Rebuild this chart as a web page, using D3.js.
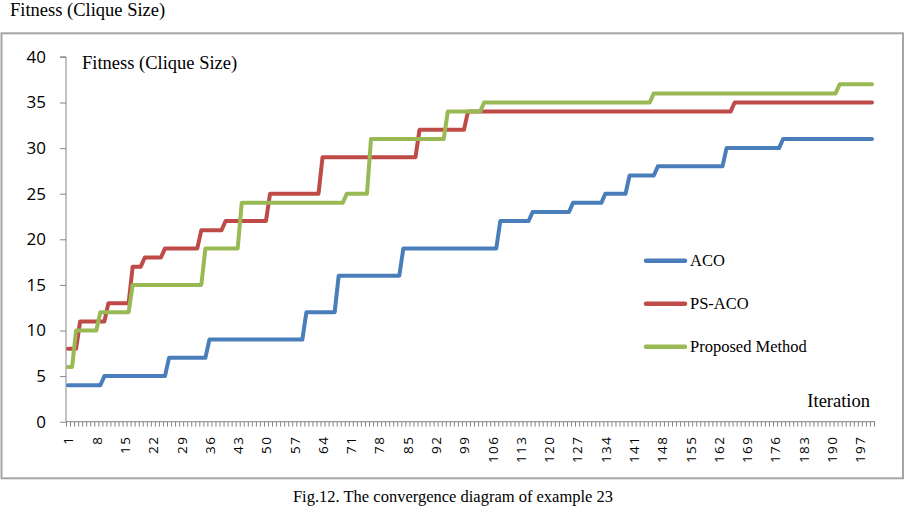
<!DOCTYPE html>
<html>
<head>
<meta charset="utf-8">
<script src="https://cdn.jsdelivr.net/npm/d3@7"></script>
<style>
  body { margin: 0; background: #fff; }
  svg { display: block; }
  .serif { font-family: "Liberation Serif", "Times New Roman", serif; fill: #000; }
  .axis path, .axis line { stroke: #868686; }
  .axis text { font-family: "Open Sans", sans-serif; fill: #000; }
</style>
</head>
<body>
<div id="chart"></div>
<script>
// fitness per iteration
const aco = [
  4,4,4,4,4,4,4,4,4,5, 5,5,5,5,5,5,5,5,5,5, 5,5,5,5,5,7,7,7,7,7, 7,7,7,7,7,9,9,9,9,9,
  9,9,9,9,9,9,9,9,9,9, 9,9,9,9,9,9,9,9,9,12, 12,12,12,12,12,12,12,16,16,16, 16,16,16,16,16,16,16,16,16,16,
  16,16,16,19,19,19,19,19,19,19, 19,19,19,19,19,19,19,19,19,19, 19,19,19,19,19,19,19,22,22,22, 22,22,22,22,22,23,23,23,23,23,
  23,23,23,23,23,24,24,24,24,24, 24,24,24,25,25,25,25,25,25,27, 27,27,27,27,27,27,28,28,28,28, 28,28,28,28,28,28,28,28,28,28,
  28,28,28,30,30,30,30,30,30,30, 30,30,30,30,30,30,30,31,31,31, 31,31,31,31,31,31,31,31,31,31, 31,31,31,31,31,31,31,31,31,31
];
const psAco = [
  8,8,8,11,11,11,11,11,11,11, 13,13,13,13,13,13,17,17,17,18, 18,18,18,18,19,19,19,19,19,19, 19,19,19,21,21,21,21,21,21,22,
  22,22,22,22,22,22,22,22,22,22, 25,25,25,25,25,25,25,25,25,25, 25,25,25,29,29,29,29,29,29,29, 29,29,29,29,29,29,29,29,29,29,
  29,29,29,29,29,29,29,32,32,32, 32,32,32,32,32,32,32,32,32,34, 34,34,34,34,34,34,34,34,34,34, 34,34,34,34,34,34,34,34,34,34,
  34,34,34,34,34,34,34,34,34,34, 34,34,34,34,34,34,34,34,34,34, 34,34,34,34,34,34,34,34,34,34, 34,34,34,34,34,34,34,34,34,34,
  34,34,34,34,34,35,35,35,35,35, 35,35,35,35,35,35,35,35,35,35, 35,35,35,35,35,35,35,35,35,35, 35,35,35,35,35,35,35,35,35,35
];
const proposed = [
  6,6,10,10,10,10,10,10,12,12, 12,12,12,12,12,12,15,15,15,15, 15,15,15,15,15,15,15,15,15,15, 15,15,15,15,19,19,19,19,19,19,
  19,19,19,24,24,24,24,24,24,24, 24,24,24,24,24,24,24,24,24,24, 24,24,24,24,24,24,24,24,24,25, 25,25,25,25,25,31,31,31,31,31,
  31,31,31,31,31,31,31,31,31,31, 31,31,31,31,34,34,34,34,34,34, 34,34,34,35,35,35,35,35,35,35, 35,35,35,35,35,35,35,35,35,35,
  35,35,35,35,35,35,35,35,35,35, 35,35,35,35,35,35,35,35,35,35, 35,35,35,35,35,36,36,36,36,36, 36,36,36,36,36,36,36,36,36,36,
  36,36,36,36,36,36,36,36,36,36, 36,36,36,36,36,36,36,36,36,36, 36,36,36,36,36,36,36,36,36,36, 36,37,37,37,37,37,37,37,37,37
];
const seriesNames = ['ACO', 'PS-ACO', 'Proposed Method'];
const seriesColors = ['#4a7ebb', '#be4b48', '#98b954'];
const xTickLabels = [1, 8, 15, 22, 29, 36, 43, 50, 57, 64, 71, 78, 85, 92, 99, 106, 113, 120, 127, 134,
  141, 148, 155, 162, 169, 176, 183, 190, 197];
const yTickLabels = [0, 5, 10, 15, 20, 25, 30, 35, 40];

let width = 905;
let height = 510;
let plot = {left: 66, right: 874, top: 56.9, bottom: 421.7};

let svg = d3.select('#chart')
  .append('svg')
    .attr('width', width)
    .attr('height', height);

// outer frame of the chart area
svg.append('rect')
  .attr('x', 1.5)
  .attr('y', 33.3)
  .attr('width', 901.5)
  .attr('height', 445)
  .attr('fill', 'none')
  .attr('stroke', '#a6a6a6')
  .attr('stroke-width', 2);

let iterations = aco.map((d, i) => i + 1);

let x = d3.scalePoint()
  .domain(iterations)
  .range([plot.left, plot.right])
  .padding(0.5);
let xEdge = d3.scaleLinear()
  .domain([0.5, iterations.length + 0.5])
  .range([plot.left, plot.right]);
let y = d3.scaleLinear()
  .domain([0, 40])
  .range([plot.bottom, plot.top]);

// y axis
let yAxis = d3.axisLeft(y)
  .tickValues(yTickLabels)
  .tickSize(6)
  .tickPadding(14);
svg.append('g')
  .attr('class', 'axis')
  .attr('transform', `translate(${plot.left},0)`)
  .call(yAxis)
  .call(g => g.select('.domain').attr('d', `M-6,${plot.top}H0V${plot.bottom}`))
  .call(g => g.selectAll('text').style('font-size', '17px'));

// x axis: one tick between each pair of categories
let xAxis = d3.axisBottom(xEdge)
  .tickValues(d3.range(0.5, iterations.length + 1, 1))
  .tickFormat('')
  .tickSize(5)
  .tickSizeOuter(0);
svg.append('g')
  .attr('class', 'axis')
  .attr('transform', `translate(0,${plot.bottom})`)
  .call(xAxis)
  .call(g => g.select('.domain').attr('d', `M${plot.left},0H${plot.right + 1}`));

let xLabels = d3.axisBottom(x)
  .tickValues(xTickLabels)
  .tickSize(0);
svg.append('g')
  .attr('class', 'axis')
  .attr('transform', `translate(0,${plot.bottom})`)
  .call(xLabels)
  .call(g => g.select('.domain').remove())
  .call(g => g.selectAll('text')
    .attr('transform', 'rotate(-90)')
    .attr('text-anchor', 'end')
    .attr('x', -14)
    .attr('y', 0)
    .attr('dy', '0.36em')
    .style('font-size', '13.5px')
    .style('letter-spacing', '1.4px'));

// lines
let line = d3.line()
  .x((d, i) => x(i + 1))
  .y(d => y(d));

[aco, psAco, proposed].forEach((values, i) => {
  svg.append('path')
    .attr('d', line(values))
    .attr('fill', 'none')
    .attr('stroke', seriesColors[i])
    .attr('stroke-width', 4)
    .attr('stroke-linejoin', 'round')
    .attr('stroke-linecap', 'round');
});

// legend
let legend = svg.append('g')
  .selectAll('g')
  .data(seriesNames)
  .enter()
  .append('g')
    .attr('transform', (d, i) => `translate(644,${260.7 + i * 43})`);
legend.append('line')
  .attr('x1', 2)
  .attr('x2', 41)
  .attr('stroke', (d, i) => seriesColors[i])
  .attr('stroke-width', 4.5)
  .attr('stroke-linecap', 'round');
legend.append('text')
  .attr('class', 'serif')
  .attr('x', 46)
  .attr('y', 5.5)
  .style('font-size', '16.5px')
  .text(d => d);

// titles
svg.append('text')
  .attr('class', 'serif')
  .attr('x', 10)
  .attr('y', 16)
  .style('font-size', '18.5px')
  .text('Fitness (Clique Size)');
svg.append('text')
  .attr('class', 'serif')
  .attr('x', 82)
  .attr('y', 69)
  .style('font-size', '18.5px')
  .text('Fitness (Clique Size)');
svg.append('text')
  .attr('class', 'serif')
  .attr('x', 870)
  .attr('y', 406.5)
  .attr('text-anchor', 'end')
  .style('font-size', '18.5px')
  .text('Iteration');
svg.append('text')
  .attr('class', 'serif')
  .attr('x', 453)
  .attr('y', 502)
  .attr('text-anchor', 'middle')
  .style('font-size', '16.5px')
  .text('Fig.12. The convergence diagram of example 23');
</script>
</body>
</html>
